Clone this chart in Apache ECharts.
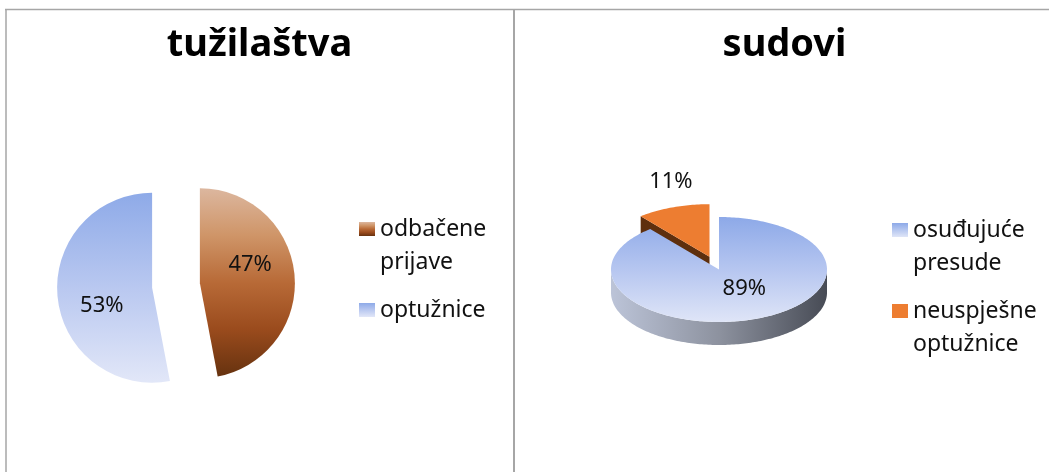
<!DOCTYPE html>
<html>
<head>
<meta charset="utf-8">
<title>tužilaštva / sudovi</title>
<script src="https://cdn.jsdelivr.net/npm/echarts@6/dist/echarts.min.js"></script>
<style>
  html, body { margin: 0; padding: 0; background: #fff; }
  #chart { width: 1049px; height: 472px; }
</style>
</head>
<body>
<div id="chart"></div>
<script>
  // lijevo - tužilaštva
  const prosecutionNames = ['odbačene prijave', 'optužnice'];
  const prosecutionValues = [47, 53];
  // desno - sudovi
  const courtNames = ['osuđujuće presude', 'neuspješne optužnice'];
  const courtValues = [89, 11];

  const FONT = '"Noto Sans", sans-serif';
  const TEXT = '#111';

  const grad = (stops) => new echarts.graphic.LinearGradient(0, 0, 0, 1,
    stops.map((c, i) => ({ offset: i / (stops.length - 1), color: c })));

  const prosecutionFills = [
    grad(['#dcb79f', '#cf9568', '#b86a37', '#9a4b1d', '#66320f']),
    grad(['#8eaae8', '#b9c8f0', '#e2e7f8'])
  ];

  // fake 3d pie for the right panel
  const court3d = { cx: 719, cy: 269.5, r: 108, tilt: 0.486, depth: 23 };
  const courtExplode = [0, 28];
  const courtTopFills = [grad(['#8da9e8', '#b6c6f0', '#dfe5f7']), '#ed7d31'];
  const courtSideFills = [
    new echarts.graphic.LinearGradient(0, 0, 1, 0, [
      { offset: 0, color: '#bcc4d8' }, { offset: 0.5, color: '#8d929f' }, { offset: 1, color: '#474b55' }
    ]),
    '#8a4a1c'
  ];
  const courtWallFill = ['#5a5e6a', '#5e2f0e'];
  const courtLabelAt = [{ dist: 0.5, dx: 7, dy: -5 }, { dist: 1, dx: -2, dy: -26 }];

  function courtSlice(idx) {
    return function (params, api) {
      const g = court3d;
      const total = courtValues.reduce((s, v) => s + v, 0);
      const before = courtValues.slice(0, idx).reduce((s, v) => s + v, 0);
      // angles measured from 12 o'clock, clockwise
      const a0 = before / total * Math.PI * 2;
      const a1 = (before + api.value(0)) / total * Math.PI * 2;
      const mid = (a0 + a1) / 2;
      const ox = g.cx + Math.sin(mid) * courtExplode[idx];
      const oy = g.cy - Math.cos(mid) * courtExplode[idx] * g.tilt;
      const rim = (a, dy) => [ox + Math.sin(a) * g.r, oy - Math.cos(a) * g.r * g.tilt + (dy || 0)];
      const arc = (s, e, dy) => {
        const pts = [];
        const n = Math.max(2, Math.ceil((e - s) / 0.02));
        for (let k = 0; k <= n; k++) pts.push(rim(s + (e - s) * k / n, dy));
        return pts;
      };
      const wall = (a) => ({
        type: 'polygon',
        shape: { points: [[ox, oy], rim(a, 0), rim(a, g.depth), [ox, oy + g.depth]] },
        style: { fill: courtWallFill[idx] }
      });

      const children = [];
      if (Math.sin(a0) < -1e-6) children.push(wall(a0));
      if (Math.sin(a1) > 1e-6) children.push(wall(a1));
      // outer side, only the front half is visible
      const s = Math.max(a0, Math.PI / 2), e = Math.min(a1, Math.PI * 1.5);
      if (e > s) {
        children.push({
          type: 'polygon',
          shape: { points: arc(s, e, 0).concat(arc(s, e, g.depth).reverse()) },
          style: { fill: courtSideFills[idx] }
        });
      }
      children.push({
        type: 'polygon',
        shape: { points: [[ox, oy]].concat(arc(a0, a1, 0)) },
        style: { fill: courtTopFills[idx] }
      });
      const la = courtLabelAt[idx];
      children.push({
        type: 'text',
        x: ox + Math.sin(mid) * g.r * la.dist + la.dx,
        y: oy - Math.cos(mid) * g.r * la.dist * g.tilt + la.dy,
        style: {
          text: Math.round(api.value(0) / total * 100) + '%',
          fill: TEXT, font: '22px ' + FONT, align: 'center', verticalAlign: 'middle'
        }
      });
      return { type: 'group', children: children };
    };
  }

  // one legend per entry so each can sit where Excel put it;
  // an empty first line keeps the icon level with the first text line
  function legendItem(name, left, iconMid, twoLines) {
    const L = 33;
    return {
      data: [name],
      left: left,
      top: twoLines ? iconMid - 1.5 * L : iconMid - L / 2,
      orient: 'vertical',
      padding: 0,
      itemWidth: 16,
      itemHeight: 14,
      icon: 'rect',
      selectedMode: false,
      formatter: (n) => twoLines ? '\n' + n.replace(' ', '\n') : n,
      textStyle: { fontFamily: FONT, fontSize: 23, color: TEXT, lineHeight: L }
    };
  }

  const chart = echarts.init(document.getElementById('chart'));

  const series = [{
    type: 'pie',
    center: [176, 285.5],
    radius: 95,
    startAngle: 90,
    selectedMode: 'multiple',
    selectedOffset: 24,
    silent: true,
    data: prosecutionNames.map((n, i) => ({
      name: n,
      value: prosecutionValues[i],
      selected: true,
      itemStyle: { color: prosecutionFills[i] }
    })),
    label: {
      position: 'inside',
      // Excel nudged the first label up and the second one down
      formatter: (p) => p.dataIndex === 0 ? p.percent + '%\n' : '\n' + p.percent + '%',
      lineHeight: 27,
      fontFamily: FONT, fontSize: 22, color: TEXT
    },
    labelLine: { show: false }
  }];

  // draw the small slice first so the big one covers it
  [1, 0].forEach(function (idx) {
    series.push({
      type: 'custom',
      name: courtNames[idx],
      coordinateSystem: 'none',
      silent: true,
      z: 2 + (idx === 0 ? 1 : 0),
      itemStyle: { color: idx === 0 ? grad(['#8da9e8', '#dfe5f7']) : '#ed7d31' },
      data: [courtValues[idx]],
      renderItem: courtSlice(idx)
    });
  });

  chart.setOption({
    animation: false,
    legend: [
      legendItem(prosecutionNames[0], 359, 229, true),
      legendItem(prosecutionNames[1], 359, 310, false),
      legendItem(courtNames[0], 892, 230, true),
      legendItem(courtNames[1], 892, 311, true)
    ],
    series: series,
    graphic: [
      { type: 'line', shape: { x1: 5, y1: 9.5, x2: 1049, y2: 9.5 }, style: { stroke: '#a6a6a6', lineWidth: 1.5 } },
      { type: 'line', shape: { x1: 6, y1: 9, x2: 6, y2: 472 }, style: { stroke: '#a6a6a6', lineWidth: 1.5 } },
      { type: 'line', shape: { x1: 514, y1: 9, x2: 514, y2: 472 }, style: { stroke: '#a6a6a6', lineWidth: 2 } },
      {
        type: 'text', x: 259.5, y: 45,
        style: { text: 'tužilaštva', font: 'bold 38px ' + FONT, fill: '#000', align: 'center', verticalAlign: 'middle' }
      },
      {
        type: 'text', x: 784.5, y: 45,
        style: { text: 'sudovi', font: 'bold 38px ' + FONT, fill: '#000', align: 'center', verticalAlign: 'middle' }
      }
    ]
  });
</script>
</body>
</html>
